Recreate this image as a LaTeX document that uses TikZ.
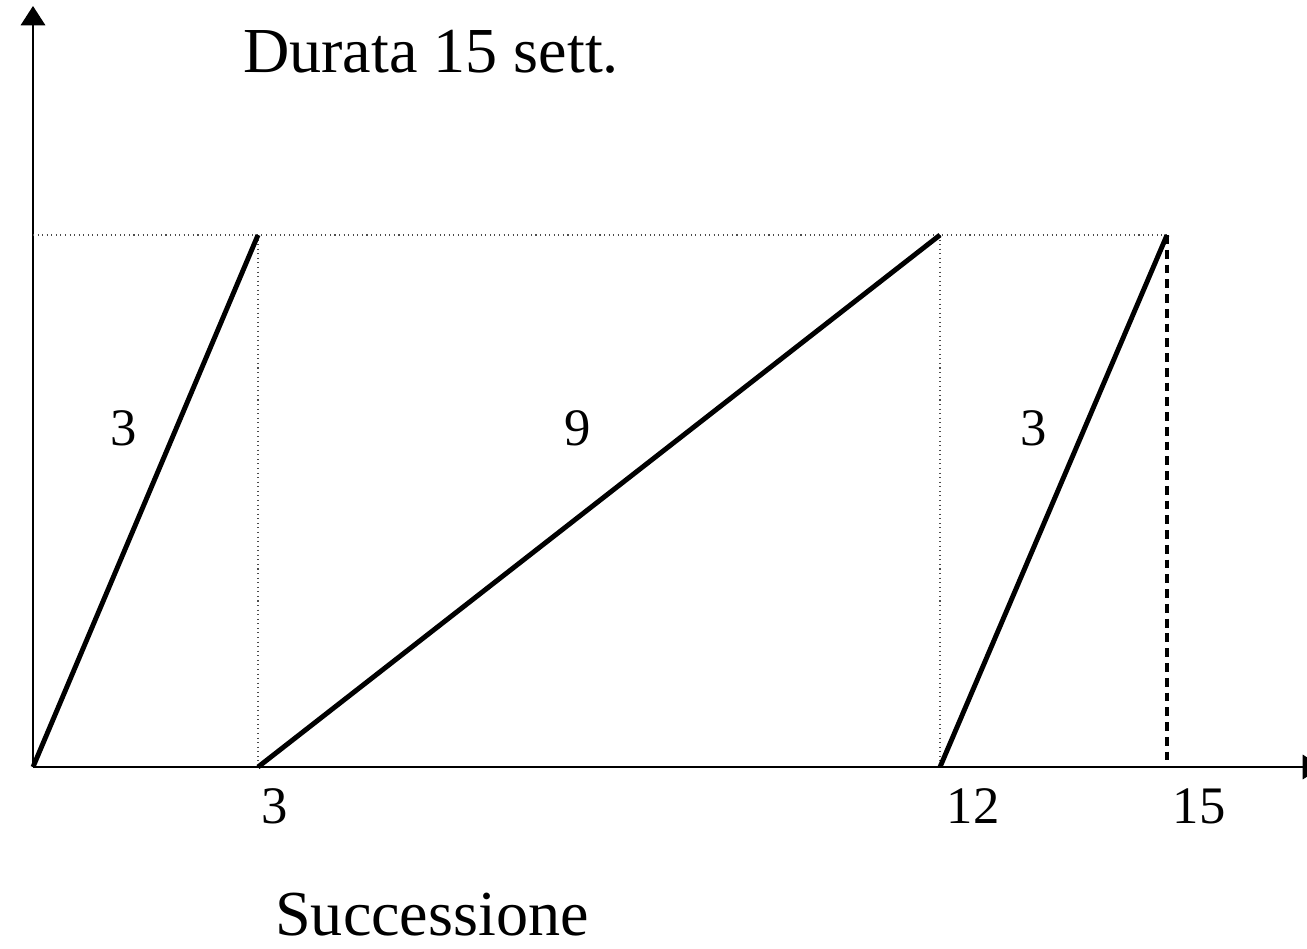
\documentclass[tikz,border=0pt]{standalone}
\usepackage{fontspec}
\setmainfont{Liberation Serif}
\usetikzlibrary{arrows.meta, positioning}

\begin{document}
\begin{tikzpicture}[x=0.02cm, y=-0.02cm,
    axis/.style={line width=0.8pt, -{Triangle[length=11pt, width=14pt]}},
    task/.style={line width=2.8pt},
    guide/.style={line width=0.6pt, dotted, black!70},
    lbl/.style={font=\fontsize{30}{35}\selectfont, inner sep=0pt},
    big/.style={font=\fontsize{36.5}{42}\selectfont, inner sep=0pt}]
    \useasboundingbox (0,0) rectangle (1307,948);
    \clip (0,0) rectangle (1307,948);
    % punti
    \coordinate (o) at (33,767);
    \coordinate (ytop) at (33,6);
    \coordinate (xend) at (1322,767);
    \coordinate (a0) at (33,235);
    \coordinate (a1) at (258,235);
    \coordinate (a2) at (940,235);
    \coordinate (a3) at (1167,235);
    \coordinate (b1) at (258,767);
    \coordinate (b2) at (940,767);
    \coordinate (b3) at (1167,767);
    % assi
    \draw[axis] (o) -- (ytop);
    \draw[axis] (o) -- (xend);
    % linee guida
    \draw[guide] (a0) -- (a3);
    \draw[guide] (a1) -- (b1);
    \draw[guide] (a2) -- (b2);
    \draw[line width=2.3pt, dash pattern=on 5pt off 3.4pt] (a3) -- (b3);
    % attivita
    \draw[task] (o) -- (a1);
    \draw[task] (b1) -- (a2);
    \draw[task] (b2) -- (a3);
    % etichette
    \node[big] (titolo) at (431,52) {Durata 15 sett.};
    \node[big] (succ) at (432,915) {Successione};
    \node[lbl] (d1) at (124,428) {3};
    \node[lbl] (d2) at (578,428) {9};
    \node[lbl] (d3) at (1034,428) {3};
    \node[lbl] (t1) at (275,806) {3};
    \node[lbl] (t2) at (973,806) {12};
    \node[lbl] (t3) at (1199,806) {15};
\end{tikzpicture}
\end{document}
